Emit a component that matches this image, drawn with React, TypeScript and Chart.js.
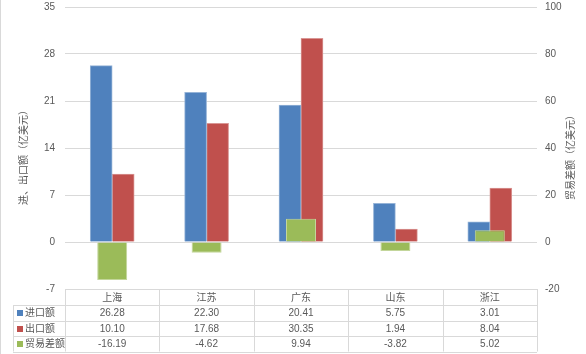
import React, { useEffect, useRef } from 'react';
import { Chart, registerables } from 'chart.js';

Chart.register(...registerables);

const categories = ['上海', '江苏', '广东', '山东', '浙江'];
const seriesNames = ['进口额', '出口额', '贸易差额'];
const importValues = [26.28, 22.3, 20.41, 5.75, 3.01];
const exportValues = [10.1, 17.68, 30.35, 1.94, 8.04];
const balanceValues = [-16.19, -4.62, 9.94, -3.82, 5.02];
const leftTickMin = -7;
const leftTickMax = 35;
const leftTickStep = 7;
const rightTickMin = -20;
const rightTickMax = 100;
const rightTickStep = 20;
const leftTitle = '进、出口额（亿美元）';
const rightTitle = '贸易差额（亿美元）';

const seriesColors = ['#4F81BD', '#C0504D', '#9BBB59'];
const seriesBorders = ['#95B3D7', '#D99694', '#C3D69B'];
const textColor = '#595959';
const lineColor = '#D9D9D9';
const FONT = '"Liberation Sans", "Noto Sans CJK SC", sans-serif';

const tableValues = [importValues, exportValues, balanceValues];

const tablePlugin = {
  id: 'dataTable',
  afterDraw(chart: any) {
    const ctx = chart.ctx as CanvasRenderingContext2D;
    const area = chart.chartArea;
    const xs = chart.scales.x;
    const n = categories.length;
    const colW = (area.right - area.left) / n;
    const top = Math.round(area.bottom);
    const headerH = 16;
    const rowH = 15.5;
    const bottom = top + headerH + rowH * 3;
    const legendLeft = 13;
    const px = (v: number) => Math.round(v) + 0.5;

    ctx.save();
    ctx.strokeStyle = lineColor;
    ctx.lineWidth = 1;
    const h = (x1: number, x2: number, y: number) => {
      ctx.beginPath();
      ctx.moveTo(x1, px(y));
      ctx.lineTo(x2, px(y));
      ctx.stroke();
    };
    const v = (x: number, y1: number, y2: number) => {
      ctx.beginPath();
      ctx.moveTo(px(x), y1);
      ctx.lineTo(px(x), y2);
      ctx.stroke();
    };
    // left frame line
    v(0, 0, chart.height);
    h(area.left, area.right, top);
    for (let r = 0; r <= 3; r++) {
      h(legendLeft, area.right, top + headerH + rowH * r);
    }
    for (let k = 0; k <= n; k++) {
      v(area.left + colW * k, top, bottom);
    }
    v(legendLeft, top + headerH, bottom);

    ctx.fillStyle = textColor;
    ctx.font = `10px ${FONT}`;
    ctx.textAlign = 'center';
    ctx.textBaseline = 'middle';
    categories.forEach((c, i) => {
      ctx.fillText(c, xs.getPixelForValue(i), top + headerH / 2 + 1);
    });
    tableValues.forEach((vals, r) => {
      const cy = top + headerH + rowH * r + rowH / 2 + 0.5;
      ctx.fillStyle = seriesColors[r];
      ctx.fillRect(legendLeft + 4, Math.round(cy) - 3, 6, 6);
      ctx.fillStyle = textColor;
      ctx.textAlign = 'left';
      ctx.fillText(seriesNames[r], legendLeft + 12, cy);
      ctx.textAlign = 'center';
      vals.forEach((val, i) => {
        ctx.fillText(val.toFixed(2), xs.getPixelForValue(i), cy);
      });
    });

    // axis titles
    const cyTitle = (area.top + area.bottom) / 2 + 7;
    ctx.textAlign = 'center';
    ctx.textBaseline = 'middle';
    ctx.save();
    ctx.translate(24, cyTitle);
    ctx.rotate(-Math.PI / 2);
    ctx.fillText(leftTitle, 0, 0);
    ctx.restore();
    ctx.save();
    ctx.translate(571, cyTitle);
    ctx.rotate(-Math.PI / 2);
    ctx.fillText(rightTitle, 0, 0);
    ctx.restore();
    ctx.restore();
  },
};

export default function App() {
  const canvasRef = useRef<HTMLCanvasElement | null>(null);

  useEffect(() => {
    document.body.style.margin = '0';
    const canvas = canvasRef.current;
    if (!canvas) return;
    const chart = new Chart(canvas, {
      type: 'bar',
      data: {
        labels: categories,
        datasets: [
          {
            label: seriesNames[0],
            data: importValues,
            backgroundColor: seriesColors[0],
            borderColor: seriesBorders[0],
            borderWidth: 1,
            barThickness: 22,
            yAxisID: 'y',
            order: 1,
          },
          {
            label: seriesNames[1],
            data: exportValues,
            backgroundColor: seriesColors[1],
            borderColor: seriesBorders[1],
            borderWidth: 1,
            barThickness: 22,
            yAxisID: 'y',
            order: 1,
          },
          {
            label: seriesNames[2],
            data: balanceValues,
            backgroundColor: seriesColors[2],
            borderColor: seriesBorders[2],
            borderWidth: 1,
            grouped: false,
            maxBarThickness: 30,
            yAxisID: 'y1',
            order: 0,
          } as any,
        ],
      },
      options: {
        animation: false,
        responsive: false,
        maintainAspectRatio: false,
        devicePixelRatio: 1,
        layout: { padding: { top: 7, bottom: 65, left: 0, right: 0 } },
        plugins: {
          legend: { display: false },
          tooltip: { enabled: false },
          title: { display: false },
        },
        scales: {
          x: {
            display: false,
            offset: true,
          },
          y: {
            position: 'left',
            min: leftTickMin,
            max: leftTickMax,
            ticks: {
              stepSize: leftTickStep,
              color: textColor,
              font: { family: FONT, size: 10 },
              padding: 0,
            },
            grid: { color: lineColor, drawTicks: true, tickLength: 10, tickColor: 'rgba(0,0,0,0)' },
            border: { display: false },
            afterFit: (scale: any) => {
              scale.width = 65;
            },
          },
          y1: {
            position: 'right',
            min: rightTickMin,
            max: rightTickMax,
            ticks: {
              stepSize: rightTickStep,
              color: textColor,
              font: { family: FONT, size: 10 },
              padding: 0,
            },
            grid: {
              display: true,
              drawOnChartArea: false,
              color: 'rgba(0,0,0,0)',
              drawTicks: true,
              tickLength: 8,
              tickColor: 'rgba(0,0,0,0)',
            },
            border: { display: false },
            afterFit: (scale: any) => {
              scale.width = 49;
            },
          },
        },
      } as any,
      plugins: [tablePlugin],
    });
    return () => chart.destroy();
  }, []);

  return (
    <div style={{ position: 'absolute', left: 0, top: 0, width: 586, height: 354 }}>
      <canvas ref={canvasRef} width={586} height={354} style={{ width: 586, height: 354, display: 'block' }} />
    </div>
  );
}
